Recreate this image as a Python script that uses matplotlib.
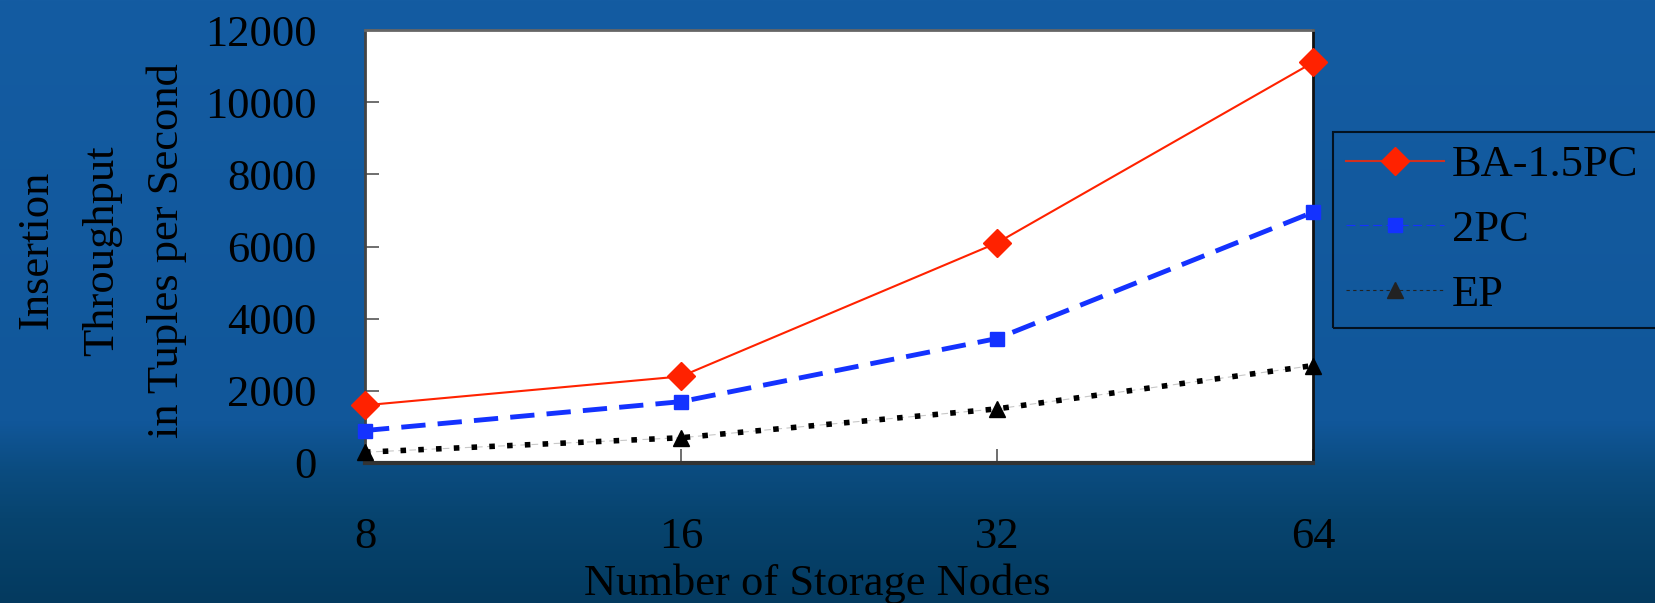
import numpy as np
import matplotlib
matplotlib.use("Agg")
import matplotlib.pyplot as plt
from matplotlib.lines import Line2D
from matplotlib.colors import LinearSegmentedColormap

plt.rcParams['font.family'] = ['Liberation Serif', 'DejaVu Serif']

# data
nodes = [8, 16, 32, 64]
node_labels = ['8', '16', '32', '64']
ba_15pc = [1600, 2400, 6100, 11100]
two_pc = [900, 1700, 3450, 6950]
ep = [300, 700, 1500, 2700]
series_names = ['BA-1.5PC', '2PC', 'EP']
y_ticks = [0, 2000, 4000, 6000, 8000, 10000, 12000]

W, H = 1656, 603
fig = plt.figure(figsize=(W / 100, H / 100), dpi=100)

# slide background: vertical blue gradient
bg = fig.add_axes([0, 0, 1, 1], zorder=-10)
cmap = LinearSegmentedColormap.from_list(
    'slide', [(0.0, '#145ca2'), (0.70, '#11579a'), (0.78, '#0b4c80'),
              (0.86, '#07446f'), (1.0, '#043a5f')])
grad = np.linspace(0, 1, 256).reshape(-1, 1)
bg.imshow(grad, cmap=cmap, aspect='auto', extent=[0, 1, 0, 1])
bg.axis('off')

ax = fig.add_axes([365 / W, 1 - 463 / H, (1313 - 365) / W, (463 - 30) / H])
ax.set_facecolor('white')

ax.plot(nodes, ba_15pc, color='#ff2200', lw=1.5, marker='D', ms=14,
        clip_on=False, zorder=5)
ax.plot(nodes, two_pc, color='#1432ff', lw=3.5, ls=(0, (5, 2.5)),
        marker='s', ms=9.5, clip_on=False, zorder=4)
ax.plot(nodes, ep, color='#c8c8c8', lw=0.8, ls=(0, (6, 4)), clip_on=False, zorder=3)
ax.plot(nodes, ep, color='black', lw=4, ls=(0, (1, 2.2)), marker='^', ms=11,
        clip_on=False, zorder=4)

ax.set_xscale('log', base=2)
ax.set_xlim(8, 64)
ax.set_ylim(0, 12000)
ax.set_xticks(nodes)
ax.set_xticklabels(node_labels)
ax.xaxis.set_minor_locator(matplotlib.ticker.NullLocator())
ax.set_yticks(y_ticks)

ax.tick_params(axis='both', direction='in', length=10, width=1.2,
               color='#555555', labelsize=32)
ax.tick_params(axis='y', pad=35)
ax.tick_params(axis='x', pad=39)

for side, c, w in [('left', '#444444', 2), ('bottom', '#333333', 3),
                   ('top', '#666666', 2), ('right', '#111111', 2)]:
    ax.spines[side].set_color(c)
    ax.spines[side].set_linewidth(w)

# three-line y label, each line centred
for x, s in [(47, 'Insertion'), (113, 'Throughput'), (178, 'in Tuples per Second')]:
    fig.text(x / W, 0.585, s, rotation=90, rotation_mode='anchor',
             ha='center', va='baseline', fontsize=32)

fig.text(817 / W, 1 - 595 / H, 'Number of Storage Nodes', ha='center',
         va='baseline', fontsize=32)

handles = [
    Line2D([], [], color='#d03020', lw=1.5, marker='D', ms=14,
           markerfacecolor='#ff2200', markeredgecolor='#ff2200'),
    Line2D([], [], color='#1432ff', lw=0.8, ls=(0, (8, 4)), marker='s', ms=9.5),
    Line2D([], [], color='#222222', lw=0.8, ls=(0, (3, 3)), marker='^', ms=11),
]
leg = fig.legend(handles, series_names, loc='upper left',
                 bbox_to_anchor=(1333 / W, 1 - 319 / H, 0.25, (319 - 132) / H),
                 mode='expand', fontsize=32, handlelength=2.2,
                 handletextpad=0.18, borderpad=0.3, labelspacing=0.55,
                 borderaxespad=0, fancybox=False, numpoints=1)
leg.get_frame().set_facecolor('none')
leg.get_frame().set_edgecolor('black')
leg.get_frame().set_linewidth(1.5)

fig.savefig('out.png', dpi=100)
